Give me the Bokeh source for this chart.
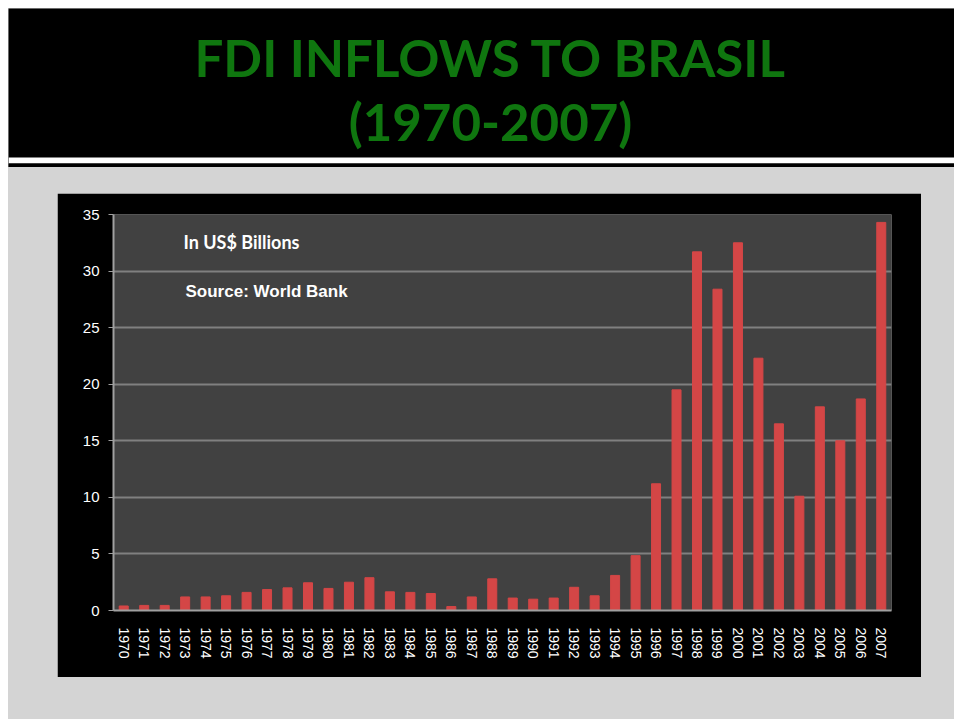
from bokeh.plotting import figure
from bokeh.layouts import column
from bokeh.models import BoxAnnotation, Label, FixedTicker, Range1d, FactorRange
from bokeh.embed import file_html
from bokeh.resources import INLINE

# ---- data (US$ billions) ----
years = ["1970", "1971", "1972", "1973", "1974", "1975", "1976", "1977", "1978", "1979",
         "1980", "1981", "1982", "1983", "1984", "1985", "1986", "1987", "1988", "1989",
         "1990", "1991", "1992", "1993", "1994", "1995", "1996", "1997", "1998", "1999",
         "2000", "2001", "2002", "2003", "2004", "2005", "2006", "2007"]
fdi = [0.4, 0.45, 0.45, 1.2, 1.2, 1.3, 1.6, 1.85, 2.0, 2.45,
       1.95, 2.5, 2.9, 1.65, 1.6, 1.5, 0.35, 1.2, 2.8, 1.1,
       1.0, 1.1, 2.05, 1.3, 3.1, 4.85, 11.2, 19.5, 31.7, 28.4,
       32.5, 22.3, 16.5, 10.1, 18.0, 15.0, 18.7, 34.3]
y_ticks = [0, 5, 10, 15, 20, 25, 30, 35]
title_line1 = "FDI INFLOWS TO BRASIL"
title_line2 = "(1970-2007)"
note_units = "In US$ Billions"
note_source = "Source:  World Bank"

GREEN = "#0f760f"
SLIDE_GRAY = "#d4d4d4"

# ---------------- header (black band + separator) ----------------
HW, HH = 946, 159
header = figure(width=HW, height=HH, x_range=Range1d(0, HW), y_range=Range1d(HH, 0),
                output_backend="svg", toolbar_location=None,
                min_border=0, min_border_left=0, min_border_right=0,
                min_border_top=0, min_border_bottom=0,
                border_fill_color="black", background_fill_color="black",
                outline_line_color=None, frame_align=False)
header.axis.visible = False
header.grid.visible = False

def hbox(t, b, color):
    header.add_layout(BoxAnnotation(top=t, bottom=b, top_units="canvas", bottom_units="canvas",
                                    fill_color=color, fill_alpha=1.0, line_color=None))

hbox(149, 155, "white")
hbox(155, 159, "black")

def hlabel(y, text):
    header.add_layout(Label(x=482, y=y, x_units="canvas", y_units="canvas", text=text,
                            text_font="Lato", text_font_size="51px",
                            text_font_style="bold", text_color=GREEN,
                            text_align="center", text_baseline="alphabetic"))

hlabel(49, title_line1)
hlabel(113, title_line2)

# ---------------- chart ----------------
p = figure(x_range=FactorRange(factors=years, range_padding=0),
           y_range=Range1d(0, 35),
           width=864, height=484,
           output_backend="svg", toolbar_location=None,
           min_border_left=56, min_border_right=30,
           min_border_top=21, min_border_bottom=67,
           border_fill_color="black", background_fill_color="#414141",
           outline_line_color=None, frame_align=False,
           margin=(26, 33, 42, 49))

p.vbar(x=years, top=fdi, width=0.44, color="#d44646")

p.xgrid.grid_line_color = None
p.ygrid.ticker = FixedTicker(ticks=y_ticks)
p.ygrid.grid_line_color = "#808080"
p.ygrid.grid_line_width = 2

p.yaxis.ticker = FixedTicker(ticks=y_ticks)
p.yaxis.axis_line_color = "#a0a0a0"
p.yaxis.axis_line_width = 2
p.yaxis.major_tick_line_color = "#a0a0a0"
p.yaxis.major_tick_out = 5
p.yaxis.major_tick_in = 0
p.yaxis.minor_tick_line_color = None
p.yaxis.major_label_text_color = "white"
p.yaxis.major_label_text_font = "Liberation Sans"
p.yaxis.major_label_text_font_size = "15px"
p.yaxis.major_label_standoff = 9

p.xaxis.axis_line_color = "#a0a0a0"
p.xaxis.axis_line_width = 2
p.xaxis.major_tick_line_color = None
p.xaxis.major_label_orientation = "vertical"
p.xaxis.major_label_text_color = "white"
p.xaxis.major_label_text_font = "Liberation Sans"
p.xaxis.major_label_text_font_size = "14px"
p.xaxis.major_label_standoff = 11

def plabel(x, y, text, size, font):
    p.add_layout(Label(x=x, y=y, x_units="canvas", y_units="canvas", text=text,
                       text_font=font, text_font_size=size, text_font_style="bold",
                       text_color="white", text_align="left", text_baseline="alphabetic"))

plabel(126, 48, note_units, "18px", "Lato")
plabel(128, 98, note_source, "17px", "Liberation Sans")

page = column(header, p, styles={"background-color": SLIDE_GRAY},
              margin=(8, 0, 0, 8), spacing=0)

open("out.html", "w").write(file_html(page, INLINE))
